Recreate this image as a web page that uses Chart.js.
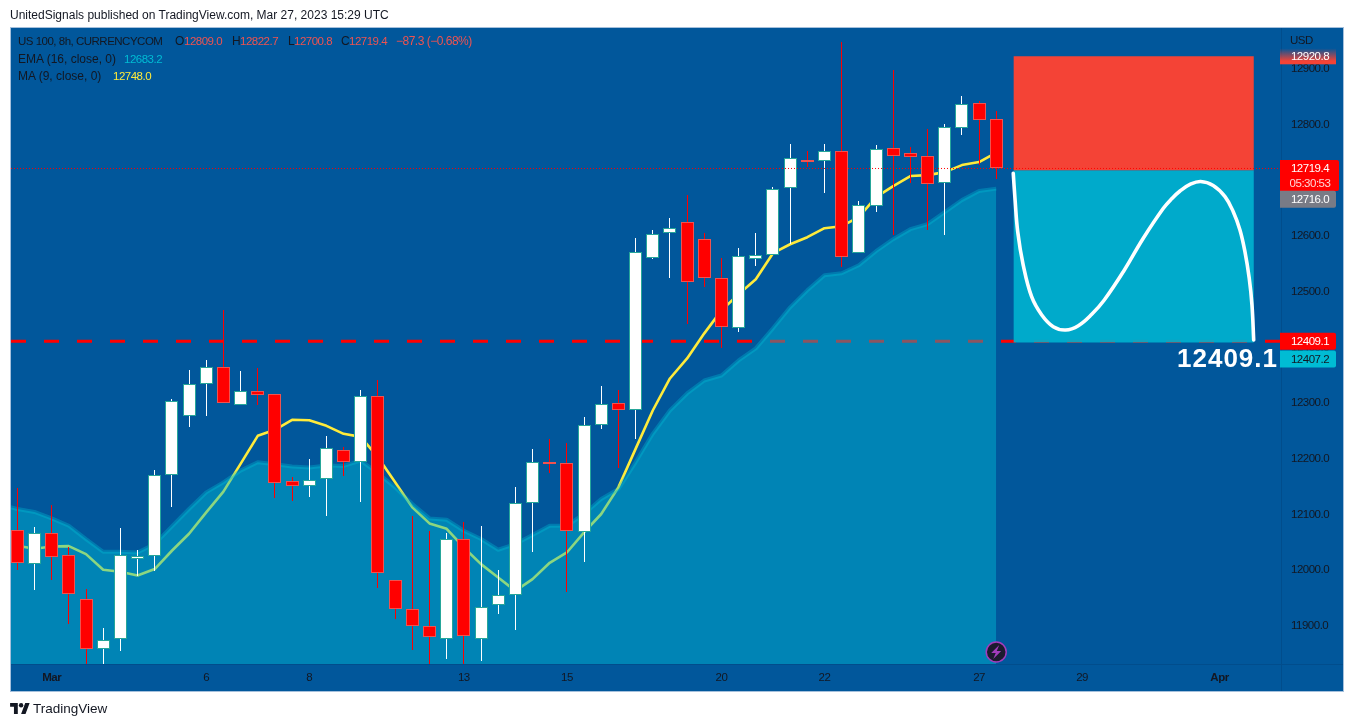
<!DOCTYPE html>
<html lang="en">
<head>
    <meta charset="UTF-8">
    <title>US 100, 8h</title>
    <style>
        body {
            margin: 0;
            padding: 0;
            background: #ffffff;
            font-family: "Liberation Sans", Arial, sans-serif;
            font-size: 12px;
            color: #131722;
        }

        #wrap {
            position: relative;
            width: 1354px;
            height: 727px;
            overflow: hidden;
        }

        canvas {
            display: block;
        }

        .txt {
            position: absolute;
            white-space: nowrap;
            line-height: 14px;
        }

        .num { font-size: 11.5px; letter-spacing: -0.5px; }
        .red { color: #ef5350; }
        .cyan { color: #00bcd4; }
        .yellow { color: #ffeb3b; }
    </style>
    <script src="https://cdn.jsdelivr.net/npm/chart.js"></script>
</head>
<body>
<div id="wrap">
    <canvas id="myChart" width="1354" height="727"></canvas>

    <div class="txt" style="left:10px;top:8px">UnitedSignals published on TradingView.com, Mar 27, 2023 15:29 UTC</div>

    <div class="txt num" style="left:18px;top:34px">US 100, 8h, CURRENCYCOM</div>
    <div class="txt" style="left:175px;top:34px">O</div>
    <div class="txt num red" style="left:184px;top:34px">12809.0</div>
    <div class="txt" style="left:232px;top:34px">H</div>
    <div class="txt num red" style="left:240px;top:34px">12822.7</div>
    <div class="txt" style="left:288px;top:34px">L</div>
    <div class="txt num red" style="left:294px;top:34px">12700.8</div>
    <div class="txt" style="left:341px;top:34px">C</div>
    <div class="txt num red" style="left:349px;top:34px">12719.4</div>
    <div class="txt red" style="left:396px;top:34px;letter-spacing:-0.5px">−87.3 (−0.68%)</div>
    <div class="txt" style="left:18px;top:52px">EMA (16, close, 0)</div>
    <div class="txt num cyan" style="left:124px;top:52px">12683.2</div>
    <div class="txt" style="left:18px;top:69px">MA (9, close, 0)</div>
    <div class="txt num yellow" style="left:113px;top:69px">12748.0</div>

    <svg style="position:absolute;left:10px;top:703px" width="20" height="11" viewBox="0 4 36 20">
        <path fill="#131722" d="M14 24H7V11H0V4h14v20zM28 24h-8l7.5-20h8L28 24z"></path>
        <circle fill="#131722" cx="20" cy="8" r="4"></circle>
    </svg>
    <div class="txt" style="left:33px;top:702px;font-size:13.5px">TradingView</div>
</div>

<script>
    // Bougies, une par barre de 8h
    const candleOpen = [12070.3, 12009.1, 12064.9, 12025.3, 11946.2, 11856.3, 11874.3, 12018.7, 12023.5, 12169.2,
        12275.3, 12332.9, 12363.5, 12295.1, 12320.3, 12314.9, 12158.4, 12149.4, 12162.0, 12214.2,
        12192.6, 12311.3, 11980.4, 11928.2, 11897.6, 11874.3, 12054.1, 11874.3, 11935.4, 11953.4,
        12118.9, 12192.6, 12190.8, 12066.7, 12259.2, 12298.7, 12286.1, 12559.5, 12602.7, 12622.5,
        12591.9, 12523.6, 12433.6, 12557.7, 12564.9, 12683.6, 12734.5, 12732.2, 12750.2, 12568.5,
        12651.3, 12755.6, 12746.6, 12741.2, 12692.6, 12791.5, 12836.5, 12809.0];
    const candleHigh = [12145.8, 12076.2, 12115.8, 12040.3, 11964.7, 11894.0, 12073.9, 12034.3, 12178.2, 12305.9,
        12356.8, 12374.8, 12464.7, 12355.0, 12361.7, 12314.9, 12166.2, 12198.0, 12239.4, 12220.1,
        12322.1, 12338.8, 11980.4, 12095.5, 12068.5, 12064.2, 12084.7, 12077.5, 11998.4, 12148.2,
        12215.4, 12234.0, 12226.8, 12274.1, 12328.0, 12322.1, 12593.7, 12608.1, 12630.2, 12671.6,
        12602.7, 12558.3, 12577.5, 12602.7, 12685.4, 12763.3, 12750.2, 12763.3, 12946.8, 12660.2,
        12761.0, 12895.9, 12757.4, 12789.7, 12798.7, 12849.6, 12840.1, 12822.7];
    const candleLow = [11999.4, 11963.5, 11980.4, 11902.3, 11830.4, 11828.0, 11853.8, 11988.1, 11996.6, 12111.0,
        12254.8, 12274.6, 12298.7, 12295.1, 12295.1, 12127.9, 12121.7, 12128.9, 12094.8, 12167.4,
        12120.0, 11967.1, 11911.3, 11855.5, 11828.0, 11839.3, 11828.0, 11835.8, 11920.3, 11891.5,
        12030.0, 12172.1, 11958.8, 12013.8, 12251.2, 12181.8, 12233.3, 12557.0, 12522.8, 12440.1,
        12506.6, 12397.7, 12425.2, 12544.4, 12564.9, 12583.4, 12721.4, 12675.7, 12542.1, 12568.5,
        12641.0, 12599.6, 12693.7, 12608.6, 12600.2, 12780.0, 12725.0, 12700.8];
    const candleClose = [12011.0, 12064.9, 12021.7, 11955.2, 11856.3, 11872.5, 12025.3, 12022.8, 12169.2, 12302.3,
        12332.9, 12363.5, 12298.7, 12320.3, 12313.1, 12154.8, 12149.4, 12160.2, 12217.8, 12192.6,
        12311.3, 11993.0, 11928.2, 11897.6, 11877.9, 12054.1, 11879.6, 11931.8, 11953.4, 12118.9,
        12192.6, 12190.1, 12068.5, 12259.2, 12296.9, 12286.1, 12570.3, 12600.9, 12611.7, 12516.4,
        12523.6, 12435.4, 12563.1, 12564.9, 12681.8, 12737.6, 12731.5, 12750.2, 12561.3, 12653.0,
        12753.8, 12741.2, 12739.4, 12690.8, 12793.3, 12834.7, 12805.9, 12719.4];

    // Indicateurs : la premiere valeur est la barre cachee a gauche du graphe
    const emaValues = [12115.8, 12108.1, 12102.7, 12091.2, 12078.0, 12054.1, 12031.3, 12031.3, 12030.0, 12045.1,
        12076.8, 12108.1, 12137.9, 12155.9, 12177.0, 12191.9, 12188.3, 12184.2, 12182.4, 12186.0,
        12185.4, 12195.0, 12172.1, 12146.9, 12117.1, 12091.2, 12088.8, 12069.0, 12054.1, 12034.9,
        12045.1, 12061.3, 12078.0, 12078.0, 12099.1, 12126.1, 12144.0, 12191.9, 12243.0, 12284.9,
        12315.5, 12338.8, 12347.8, 12374.8, 12396.4, 12432.4, 12470.1, 12500.7, 12527.7, 12531.3,
        12545.7, 12570.9, 12592.4, 12610.4, 12619.4, 12641.0, 12662.6, 12678.8, 12683.2];
    const maValues = [12054.7, 12042.1, 12036.7, 12040.8, 12041.5, 12027.1, 11998.9, 11995.3, 11988.6, 12000.2,
        12033.1, 12063.6, 12102.0, 12139.2, 12189.0, 12239.4, 12250.2, 12268.2, 12267.4, 12257.4,
        12243.0, 12237.6, 12200.9, 12155.9, 12111.0, 12082.2, 12072.6, 12039.0, 12009.1, 11985.1,
        11961.1, 11982.2, 12011.5, 12030.0, 12066.0, 12099.1, 12146.9, 12216.0, 12284.9, 12342.4,
        12378.4, 12423.4, 12464.7, 12493.5, 12520.5, 12567.3, 12583.4, 12596.0, 12612.2, 12615.8,
        12632.0, 12668.0, 12687.8, 12705.8, 12707.5, 12712.9, 12725.5, 12730.9, 12748.0];

    // Position short : entree, stop, objectif et courbe dessinee a la main
    const entryPrice = 12716.0;
    const stopPrice = 12920.8;
    const targetPrice = 12407.2;
    const lastPrice = 12719.4;
    const linePrice = 12409.1;
    const boxBars = [58, 72];
    const curveBars = [57.99, 58.09, 58.25, 58.57, 59.06, 59.65, 60.32, 61.04, 61.78, 62.56, 63.29, 64.4, 65.56, 66.73,
        67.23, 67.7, 68.28, 68.9, 69.63, 70.32, 70.8, 71.19, 71.48, 71.73, 71.89, 71.99];
    const curvePrices = [12710.8, 12665.9, 12605.9, 12546.1, 12489.2, 12456.4, 12435.4, 12429.5, 12437.2, 12457.6, 12483.3, 12534.1, 12594.1, 12647.9,
        12665.5, 12679.0, 12690.7, 12696.1, 12688.9, 12668.8, 12641.8, 12609.0, 12570.0, 12522.3, 12474.3, 12411.5];

    // Axes
    const xTickBars = [2, 11, 17, 26, 32, 41, 47, 56, 62, 70];
    const xTickLabels = ['Mar', '6', '8', '13', '15', '20', '22', '27', '29', 'Apr'];
    const yTickValues = [11900, 12000, 12100, 12200, 12300, 12400, 12500, 12600, 12700, 12800, 12900];
    const xMin = -0.367;
    const xMax = 73.58;
    const yMin = 11829.8;
    const yMax = 12971.6;

    const BG = '#01579b';
    const TEXT = '#131722';

    const isUp = candleClose.map((c, i) => c >= candleOpen[i]);
    const bars = candleOpen.map((o, i) => i);

    // Fond, cadre et separateurs des axes
    const framePlugin = {
        id: 'frame',
        beforeDraw(chart) {
            const { ctx, chartArea } = chart;
            ctx.save();
            ctx.fillStyle = '#ffffff';
            ctx.fillRect(0, 0, 1354, 727);
            ctx.fillStyle = BG;
            ctx.fillRect(10, 27, 1334, 665);
            ctx.strokeStyle = '#a5c0dc';
            ctx.lineWidth = 1;
            ctx.strokeRect(10.5, 27.5, 1333, 664);
            ctx.strokeStyle = '#014d8c';
            ctx.beginPath();
            ctx.moveTo(chartArea.right + 0.5, 28);
            ctx.lineTo(chartArea.right + 0.5, 691);
            ctx.moveTo(11, chartArea.bottom + 0.5);
            ctx.lineTo(1343, chartArea.bottom + 0.5);
            ctx.stroke();
            ctx.restore();
            // Chiffres serres comme sur l'original, valable aussi pour les axes
            ctx.letterSpacing = '-0.5px';
        }
    };

    // Cale les bougies sur les pixels pour garder des meches nettes
    const snapPlugin = {
        id: 'snap',
        afterDatasetsUpdate(chart) {
            chart.getSortedVisibleDatasetMetas().forEach(meta => {
                if (meta.type !== 'bar') return;
                meta.data.forEach(el => {
                    el.x = Math.floor(el.x) + 0.5;
                    el.y = Math.round(el.y);
                    el.base = Math.round(el.base);
                    if (Math.abs(el.base - el.y) < 2) el.base = el.y + 2;
                });
            });
        }
    };

    // Etiquettes de prix a droite, gros libelle et icone de l'indicateur
    const tagPlugin = {
        id: 'tags',
        afterDraw(chart) {
            const { ctx } = chart;
            const y = chart.scales.y;
            const x = chart.scales.x;
            const left = chart.chartArea.right - 1;

            function tag(price, shift, color, textColor) {
                const py = y.getPixelForValue(price) + shift;
                ctx.fillStyle = color;
                ctx.beginPath();
                ctx.roundRect(left, py - 8.5, 56, 17, [0, 2, 2, 0]);
                ctx.fill();
                ctx.fillStyle = textColor;
                ctx.fillText(price.toFixed(1), left + 30, py + 0.5);
            }

            ctx.save();
            ctx.font = '11.5px "Liberation Sans"';
            ctx.textAlign = 'center';
            ctx.textBaseline = 'middle';

            ctx.fillStyle = TEXT;
            ctx.textAlign = 'left';
            ctx.fillText('USD', 1290, 41);
            ctx.textAlign = 'center';

            const stopY = y.getPixelForValue(stopPrice);
            const grad = ctx.createLinearGradient(0, stopY - 8, 0, stopY + 8);
            grad.addColorStop(0, 'rgba(244,67,54,0)');
            grad.addColorStop(0.8, '#f44336');
            grad.addColorStop(1, '#f44336');
            ctx.fillStyle = grad;
            ctx.fillRect(left, stopY - 8, 56, 16);
            ctx.fillStyle = '#ffffff';
            ctx.fillText(stopPrice.toFixed(1), left + 30, stopY + 0.5);

            const lastY = y.getPixelForValue(lastPrice);
            ctx.fillStyle = '#ff0000';
            ctx.beginPath();
            ctx.roundRect(left, lastY - 8.5, 59, 31, [0, 2, 2, 0]);
            ctx.fill();
            ctx.fillStyle = '#ffffff';
            ctx.fillText(lastPrice.toFixed(1), left + 30, lastY + 0.5);
            ctx.fillStyle = '#ffd6d6';
            ctx.fillText('05:30:53', left + 30, lastY + 15);

            tag(entryPrice, 29, '#787b86', '#ffffff');
            tag(linePrice, 0, '#ff0000', '#ffffff');
            tag(targetPrice, 16.7, '#00bcd4', TEXT);

            ctx.fillStyle = '#ffffff';
            ctx.font = 'bold 26px "Liberation Sans"';
            ctx.textAlign = 'right';
            ctx.letterSpacing = '1px';
            ctx.fillText(linePrice.toFixed(1), 1278, y.getPixelForValue(targetPrice) + 17);

            const cx = x.getPixelForValue(bars[bars.length - 1]);
            const cy = 652;
            ctx.fillStyle = '#1c1b2e';
            ctx.strokeStyle = '#a33cbd';
            ctx.lineWidth = 1.5;
            ctx.beginPath();
            ctx.arc(cx, cy, 10, 0, Math.PI * 2);
            ctx.fill();
            ctx.stroke();
            ctx.fillStyle = '#a33cbd';
            ctx.beginPath();
            ctx.moveTo(cx + 3, cy - 7);
            ctx.lineTo(cx - 5, cy + 1);
            ctx.lineTo(cx - 0.5, cy + 1);
            ctx.lineTo(cx - 3, cy + 7);
            ctx.lineTo(cx + 5, cy - 1);
            ctx.lineTo(cx + 0.5, cy - 1);
            ctx.closePath();
            ctx.fill();
            ctx.restore();
        }
    };

    Chart.defaults.font.family = '"Liberation Sans", Arial, sans-serif';
    Chart.defaults.font.size = 11.5;
    Chart.defaults.color = TEXT;

    const ctx = document.getElementById('myChart').getContext('2d');
    new Chart(ctx, {
        type: 'line',
        plugins: [framePlugin, snapPlugin, tagPlugin],
        data: {
            datasets: [
                {
                    label: 'Niveau',
                    type: 'line',
                    data: [{ x: xMin, y: linePrice }, { x: xMax, y: linePrice }],
                    borderColor: '#ff0000',
                    borderWidth: 3,
                    borderDash: [15, 18],
                    pointRadius: 0,
                    order: 10
                },
                {
                    label: 'MA',
                    type: 'line',
                    data: maValues.map((v, i) => ({ x: i - 1, y: v })),
                    borderColor: '#ffeb3b',
                    borderWidth: 2.6,
                    borderJoinStyle: 'round',
                    pointRadius: 0,
                    order: 9
                },
                {
                    label: 'EMA',
                    type: 'line',
                    data: emaValues.map((v, i) => ({ x: i - 1, y: v })),
                    borderColor: 'rgba(0,188,212,0.35)',
                    backgroundColor: 'rgba(0,188,212,0.45)',
                    borderWidth: 4,
                    borderJoinStyle: 'round',
                    fill: 'start',
                    pointRadius: 0,
                    order: 8
                },
                {
                    label: 'Stop',
                    type: 'line',
                    data: boxBars.map(b => ({ x: b, y: stopPrice })),
                    borderWidth: 0,
                    backgroundColor: '#f44336',
                    fill: { value: entryPrice },
                    pointRadius: 0,
                    order: 7
                },
                {
                    label: 'Objectif',
                    type: 'line',
                    data: boxBars.map(b => ({ x: b, y: targetPrice })),
                    borderWidth: 0,
                    backgroundColor: 'rgba(0,176,207,0.93)',
                    fill: { value: entryPrice },
                    pointRadius: 0,
                    order: 7
                },
                {
                    label: 'Meches',
                    type: 'bar',
                    data: bars.map(i => ({ x: i, y: [candleLow[i], candleHigh[i]] })),
                    backgroundColor: isUp.map(up => up ? '#ffffff' : '#ff0000'),
                    barThickness: 1,
                    grouped: false,
                    inflateAmount: 0,
                    order: 5
                },
                {
                    label: 'Corps',
                    type: 'bar',
                    data: bars.map(i => ({ x: i, y: [candleOpen[i], candleClose[i]] })),
                    backgroundColor: isUp.map(up => up ? '#ffffff' : '#ff0000'),
                    borderColor: isUp.map(up => up ? '#26a69a' : '#ef5350'),
                    borderWidth: 1,
                    borderSkipped: false,
                    barThickness: 13,
                    grouped: false,
                    inflateAmount: 0,
                    order: 4
                },
                {
                    label: 'Courbe',
                    type: 'line',
                    data: curveBars.map((b, i) => ({ x: b, y: curvePrices[i] })),
                    borderColor: '#ffffff',
                    borderWidth: 3.6,
                    borderCapStyle: 'round',
                    tension: 0.4,
                    pointRadius: 0,
                    order: 2
                },
                {
                    label: 'Dernier',
                    type: 'line',
                    data: [{ x: xMin, y: lastPrice }, { x: xMax, y: lastPrice }],
                    borderColor: '#ff0000',
                    borderWidth: 1,
                    borderDash: [1, 2],
                    pointRadius: 0,
                    order: 1
                }
            ]
        },
        options: {
            responsive: false,
            animation: false,
            parsing: true,
            layout: {
                padding: { left: 11, top: 28, right: 11, bottom: 36 }
            },
            plugins: {
                legend: { display: false },
                tooltip: { enabled: false }
            },
            scales: {
                x: {
                    type: 'linear',
                    min: xMin,
                    max: xMax,
                    offset: false,
                    grid: { display: false, drawTicks: false, offset: false },
                    border: { display: false },
                    afterFit(scale) {
                        scale.height = 27;
                    },
                    afterBuildTicks(scale) {
                        scale.ticks = xTickBars.map(v => ({ value: v }));
                    },
                    ticks: {
                        autoSkip: false,
                        maxRotation: 0,
                        padding: 7,
                        color: TEXT,
                        font: c => {
                            const lab = xTickLabels[xTickBars.indexOf(c.tick ? c.tick.value : -1)];
                            return { weight: lab === 'Mar' || lab === 'Apr' ? 'bold' : 'normal' };
                        },
                        callback: v => xTickLabels[xTickBars.indexOf(v)]
                    }
                },
                y: {
                    type: 'linear',
                    position: 'right',
                    min: yMin,
                    max: yMax,
                    grid: { display: false, drawTicks: false },
                    border: { display: false },
                    afterFit(scale) {
                        scale.width = 62;
                    },
                    afterBuildTicks(scale) {
                        scale.ticks = yTickValues.map(v => ({ value: v }));
                    },
                    ticks: {
                        padding: 10,
                        labelOffset: 1,
                        color: TEXT,
                        callback: v => v.toFixed(1)
                    }
                }
            }
        }
    });
</script>
</body>
</html>
